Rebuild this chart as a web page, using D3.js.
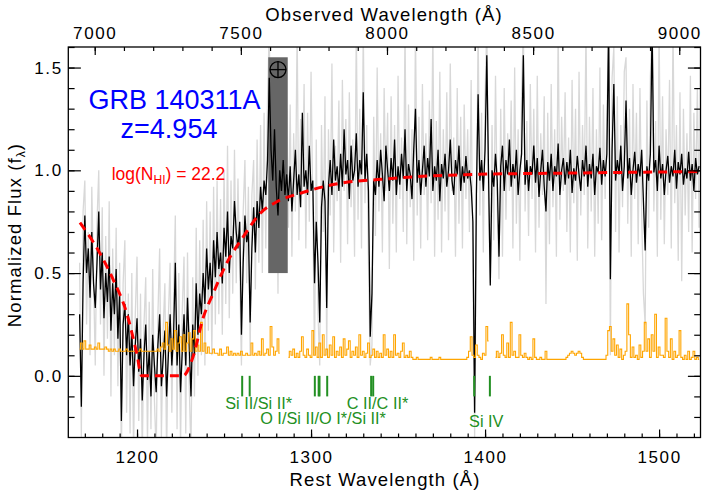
<!DOCTYPE html>
<html>
<head>
<meta charset="utf-8">
<script src="https://cdn.jsdelivr.net/npm/d3@7"></script>
<style>
body { margin: 0; background: #fff; }
svg { display: block; }
</style>
</head>
<body>
<div id="chart"></div>
<script>
// redshift of the burst
var z = 4.954;

// spectrum grid (rest frame, Angstrom): first pixel and step
var lamStart = 1167, lamStep = 1;

// binned spectrum (black)
var fluxBinned = [
  0.30, -0.15, 0.45, 0.78, 0.50, 0.62, 0.38, 0.70, 0.45, 0.33,
  0.55, 0.80, 0.42, 0.60, 0.28, 0.50, 0.36, 0.58, 0.22, 0.45,
  0.30, 0.52, 0.18, 0.40, -0.22, 0.25, 0.35, 0.10, 0.30, 0.05,
  0.22, -0.05, 0.15, 0.28, 0.02, 0.18, -0.12, 0.10, 0.25, -0.02,
  0.12, -0.10, 0.20, 0.05, -0.08, 0.15, 0.30, -0.05, 0.08, 0.22,
  -0.10, 0.10, 0.30, 0.05, 0.20, 0.55, 0.05, 0.25, -0.08, 0.12,
  0.30, 0.05, 0.38, 0.15, -0.10, 0.25, 0.10, 0.45, 0.20, 0.40,
  0.30, 0.50, 0.35, 0.62, 0.42, 0.55, 0.38, 0.66, 0.48, 0.70,
  0.52, 0.60, 0.45, 0.72, 0.58, 0.80, 0.50, 0.68, 0.62, 0.85,
  0.70, 0.62, 0.75, 0.20, 0.55, 0.78, 0.65, 0.70, 0.26, 0.62,
  0.82, 0.60, 0.85, 0.72, 0.92, 0.80, 0.95, 0.88, 1.05, 1.45,
  1.10, 0.95, 1.20, 0.92, 0.78, 1.00, 0.90, 1.05, 0.88, 0.98,
  0.85, 1.02, 0.80, 0.95, 1.10, 0.88, 0.98, 0.82, 1.28, 0.92,
  1.00, 0.88, 1.12, 0.90, 0.95, 0.45, 0.75, 0.55, 0.26, 0.82,
  0.95, 0.85, 0.33, 0.92, 1.05, 0.88, 1.15, 0.95, 1.02, 0.90,
  1.08, 0.92, 1.20, 0.98, 1.05, 0.86, 1.12, 0.95, 1.00, 1.18,
  0.92, 1.05, 0.98, 1.38, 0.95, 1.08, 0.90, 0.19, 0.40, 0.95,
  0.88, 1.05, 0.92, 1.10, 0.98, 0.85, 1.12, 1.00, 0.90, 1.06,
  0.95, 1.15, 0.88, 1.02, 0.93, 1.08, 0.96, 1.20, 0.90, 1.03,
  0.98, 0.86, 1.10, 1.30, 0.94, 1.05, 0.88, 1.00, 1.12, 0.92,
  1.06, 0.97, 1.25, 0.90, 1.02, 0.95, 1.10, 0.85, 1.03, 0.96,
  1.08, 0.92, 1.00, 1.15, 0.95, 0.88, 1.05, 0.98, 1.12, 0.90,
  1.02, 0.94, 1.07, 0.96, 1.00, 0.92, 0.75, -0.18, 0.88, 1.37,
  0.95, 1.05, 0.90, 1.10, 1.56, 0.98, 0.44, 1.00, 0.92, 1.08,
  0.95, 0.58, 1.02, 1.12, 0.90, 1.05, 0.98, 1.15, 0.92, 1.03,
  0.96, 1.10, 0.88, 1.00, 1.08, 1.56, 0.93, 1.05, 0.90, 1.02,
  0.98, 1.12, 0.94, 1.06, 0.87, 1.00, 1.10, 0.92, 0.80, 1.04,
  0.95, 1.08, 0.90, 1.02, 0.97, 1.13, 0.88, 1.00, 1.06, 0.93,
  1.04, 0.96, 1.10, 0.89, 1.01, 0.95, 1.07, 0.98, 0.90, 1.05,
  0.97, 1.12, 0.92, 1.03, 0.96, 1.08, 0.88, 1.02, 0.99, 1.11,
  0.93, 1.05, 0.97, 1.08, 1.70, 0.47, 1.10, 1.42, 0.95, 1.05,
  0.98, 1.12, 0.90, 1.02, 1.34, 0.96, 1.06, 0.88, 1.00, 1.09,
  0.94, 1.03, 0.97, 1.10, 0.85, 0.61, 1.02, 0.95, 1.08, 1.70,
  0.99, 1.05, 0.90, 1.12, 0.96, 1.03, 0.88, 1.00, 1.07, 0.94,
  1.02, 0.97, 1.10, 0.91, 1.04, 0.98, 1.08, 0.93, 1.01, 0.96,
  1.09, 0.95, 1.03, 0.90, 1.06, 0.98, 1.02
];

// unbinned spectrum (light grey)
var fluxRaw = [
  0.55, -0.30, 0.80, 0.95, 0.25, 0.70, 0.10, 0.92, 0.48, 0.05,
  0.75, 1.00, 0.25, 0.82, 0.00, 0.68, 0.18, 0.85, -0.10, 0.62,
  0.10, 0.72, -0.05, 0.55, -0.40, 0.45, 0.66, -0.18, 0.40, -0.28,
  0.50, -0.38, 0.30, 0.58, -0.22, 0.40, -0.40, 0.25, 0.48, -0.34,
  0.36, -0.26, 0.52, -0.12, -0.38, 0.30, 0.62, -0.30, 0.22, 0.45,
  -0.40, 0.28, 0.55, -0.18, 0.36, 0.78, -0.26, 0.50, -0.35, 0.32,
  0.58, -0.28, 0.60, -0.05, -0.38, 0.48, -0.10, 0.72, 0.00, 0.66,
  0.10, 0.76, 0.05, 0.85, 0.22, 0.80, 0.10, 0.92, 0.25, 0.95,
  0.30, 0.86, 0.20, 1.00, 0.35, 1.12, 0.28, 0.95, 0.40, 1.10,
  0.45, 0.96, 0.50, 0.05, 0.80, 1.05, 0.45, 0.92, 0.10, 0.88,
  1.05, 0.42, 1.15, 0.55, 1.22, 0.50, 1.28, 0.62, 1.35, 1.70,
  0.80, 1.30, 0.62, 1.26, 0.40, 1.40, 0.58, 1.24, 0.66, 1.30,
  0.72, 1.32, 0.58, 1.18, 0.80, 1.70, 0.66, 1.25, 0.88, 1.42,
  0.62, 1.28, 0.75, 1.48, 0.82, 0.10, 1.15, 0.30, 0.05, 1.22,
  0.70, 1.36, 0.10, 1.20, 0.78, 1.52, 0.60, 1.12, 0.85, 1.34,
  0.55, 1.44, 0.90, 1.25, 0.64, 1.38, 0.82, 1.15, 0.58, 1.70,
  0.76, 1.30, 0.62, 1.70, 0.84, 1.22, 0.55, 0.05, 0.15, 1.26,
  0.68, 1.50, 0.80, 1.18, 0.60, 1.40, 0.90, 1.28, 0.52, 1.36,
  0.74, 1.22, 0.60, 1.46, 0.86, 1.16, 0.70, 1.70, 0.64, 1.32,
  0.82, 1.20, 0.56, 1.70, 0.78, 1.26, 0.62, 1.42, 0.88, 1.18,
  0.66, 1.34, 0.84, 1.70, 0.58, 1.24, 0.76, 1.48, 0.60, 1.20,
  0.80, 1.38, 0.66, 1.52, 0.90, 1.16, 0.58, 1.40, 0.74, 1.26,
  0.62, 1.32, 0.86, 1.20, 0.70, 1.44, 0.50, -0.30, 0.72, 1.70,
  0.78, 1.28, 0.60, 1.36, 1.70, 0.84, 0.45, 1.22, 0.66, 1.46,
  0.82, 0.47, 1.30, 0.58, 1.40, 0.76, 1.18, 0.90, 1.34, 0.62,
  1.50, 0.74, 1.20, 0.56, 1.38, 1.70, 0.80, 1.24, 0.68, 1.42,
  0.86, 1.30, 0.60, 1.46, 0.72, 1.18, 0.88, 1.36, 0.35, 1.28,
  0.64, 1.42, 0.82, 1.20, 0.58, 1.70, 0.76, 1.26, 0.90, 1.38,
  0.70, 1.16, 0.60, 1.44, 0.84, 1.30, 0.56, 1.48, 0.78, 1.22,
  0.88, 1.70, 0.62, 1.26, 0.80, 1.40, 0.58, 1.20, 0.74, 1.50,
  0.66, 1.32, 0.86, 1.24, 1.70, 0.10, 1.45, 1.60, 0.70, 1.36,
  0.60, 1.22, 0.82, 1.48, 1.55, 0.74, 1.30, 0.58, 1.42, 0.86,
  1.28, 0.64, 1.40, 0.78, 0.40, 0.25, 1.34, 0.72, 1.46, 1.70,
  0.80, 1.24, 0.58, 1.70, 0.76, 1.36, 0.64, 1.20, 0.88, 1.44,
  0.62, 1.70, 0.84, 1.22, 0.56, 1.38, 0.46, 1.30, 0.78, 1.18,
  0.70, 1.46, 0.60, 1.28, 0.86, 1.40, 0.72
];

// error spectrum (orange), null where masked
var fluxError = [
  0.13, 0.16, 0.13, 0.17, 0.13, 0.13, 0.15, 0.13, 0.13, 0.14,
  0.13, 0.16, 0.13, 0.13, 0.13, 0.14, 0.13, 0.12, 0.13, 0.12,
  0.13, 0.12, 0.12, 0.13, 0.12, 0.12, 0.12, 0.13, 0.12, 0.12,
  0.12, 0.12, 0.12, 0.12, 0.12, 0.13, 0.12, 0.12, 0.12, 0.12,
  0.12, 0.12, 0.12, 0.12, 0.12, 0.13, 0.12, 0.14, 0.16, 0.13,
  0.26, 0.15, 0.12, 0.18, 0.13, 0.22, 0.12, 0.16, 0.19, 0.12,
  0.20, 0.12, 0.16, 0.21, 0.12, 0.18, 0.22, 0.12, 0.15, 0.12,
  0.26, 0.12, 0.16, 0.11, 0.14, 0.11, 0.11, 0.13, 0.11, 0.11,
  0.10, 0.13, 0.10, 0.11, 0.11, 0.14, 0.10, 0.12, 0.10, 0.11,
  0.10, 0.11, 0.10, 0.12, 0.10, 0.10, 0.11, 0.10, 0.10, 0.16,
  0.10, 0.11, 0.10, 0.12, 0.10, 0.18, 0.10, 0.11, 0.13, 0.10,
  0.24, 0.14, 0.10, 0.12, 0.18, 0.11, null, null, null, null,
  0.09, 0.12, 0.10, 0.13, 0.09, 0.11, 0.09, 0.12, 0.19, 0.10,
  0.09, 0.13, 0.10, 0.09, 0.22, 0.10, 0.14, 0.09, 0.16, 0.09,
  0.20, 0.10, 0.13, 0.09, 0.15, 0.10, 0.19, 0.09, 0.12, 0.10,
  0.14, 0.09, 0.18, 0.10, 0.13, 0.17, 0.09, 0.12, 0.10, 0.14,
  0.09, 0.20, 0.10, 0.12, 0.09, 0.11, 0.16, 0.09, 0.10, 0.13,
  0.09, 0.12, 0.09, 0.11, 0.09, 0.20, 0.10, 0.13, 0.09, 0.12,
  0.09, 0.20, 0.10, 0.11, 0.09, 0.12, 0.16, 0.09, 0.10, 0.09,
  0.12, 0.09, 0.08, 0.08, 0.09, 0.08, 0.08, 0.08, 0.08, 0.08,
  0.08, 0.08, 0.09, 0.08, 0.08, 0.08, 0.08, 0.09, 0.08, 0.08,
  0.08, 0.08, 0.08, 0.08, 0.08, 0.08, 0.08, 0.08, 0.08, 0.08,
  0.08, 0.08, 0.08, 0.09, 0.12, 0.19, 0.10, 0.09, 0.15, 0.10,
  0.09, 0.08, 0.11, 0.10, 0.24, 0.17, null, null, null, 0.09,
  0.12, 0.09, 0.11, 0.20, 0.10, 0.09, 0.16, 0.09, 0.26, 0.10,
  0.12, 0.09, 0.09, 0.20, 0.10, 0.09, 0.11, 0.09, 0.08, 0.09,
  0.08, 0.18, 0.09, 0.08, 0.08, 0.09, 0.08, 0.08, 0.12, 0.08,
  0.08, 0.08, 0.08, 0.08, 0.08, 0.08, 0.08, 0.08, 0.08, 0.08,
  0.09, 0.10, 0.11, 0.12, 0.11, 0.10, 0.11, 0.12, 0.11, 0.09,
  0.08, 0.08, 0.08, 0.08, 0.08, 0.08, 0.08, 0.08, 0.08, 0.08,
  0.08, 0.08, 0.08, 0.10, 0.22, 0.24, 0.12, 0.18, 0.10, 0.15,
  0.09, 0.13, 0.08, 0.10, 0.12, 0.35, 0.20, 0.09, 0.14, 0.09,
  0.10, 0.08, 0.15, 0.09, 0.12, 0.26, 0.12, 0.18, 0.09, 0.20,
  0.12, 0.30, 0.09, 0.14, 0.10, 0.10, 0.09, 0.28, 0.12, 0.09,
  0.18, 0.08, 0.12, 0.09, 0.10, 0.22, 0.09, 0.08, 0.10, 0.08,
  0.12, 0.08, 0.09, 0.12, 0.08, 0.09, 0.08
];

// DLA model (red dashed)
var modelLam  = [1167.2, 1178.4, 1186.4, 1194.1, 1199.8, 1202.7, 1226.4, 1232.2, 1237.9, 1243.7, 1251.5,
                 1261.1, 1270.7, 1280.3, 1293.7, 1316.7, 1339.7, 1366.6, 1393.0, 1443.0, 1523.5];
var modelFlux = [0.745, 0.60, 0.466, 0.304, 0.11, 0.0, 0.0, 0.093, 0.28, 0.40, 0.548,
                 0.677, 0.79, 0.847, 0.888, 0.937, 0.956, 0.972, 0.98, 0.986, 0.994];

// metal absorption lines (rest wavelengths)
var lineLam = [1260.42, 1264.74, 1302.17, 1304.37, 1304.86, 1309.28, 1334.53, 1335.71, 1393.76, 1402.77];
var lineLabels = ["Si II/Si II*", "O I/Si II/O I*/Si II*", "C II/C II*", "Si IV"];

// telluric A-band (rest wavelength range, flux range)
var tellLam = [1275.4, 1286.6];
var tellFlux = [0.5, 1.55];

// axis ticks
var restTicks = [1200, 1300, 1400, 1500];
var obsTicks = [7000, 7500, 8000, 8500, 9000];
var fluxTicks = [0.0, 0.5, 1.0, 1.5];

// ---- drawing ----
var font = "'Liberation Sans', Arial, Helvetica, sans-serif";
var margin = {top: 47, right: 1.5, bottom: 54.5, left: 68.3},
    width = 702 - margin.left - margin.right,
    height = 492 - margin.top - margin.bottom;

var svg = d3.select("#chart")
  .append("svg")
    .attr("width", 702)
    .attr("height", 492)
    .style("font-family", font);

var g = svg.append("g")
    .attr("transform", "translate(" + margin.left + "," + margin.top + ")");

var x = d3.scaleLinear().domain([1160.5, 1523.8]).range([0, width]);
var xObs = d3.scaleLinear().domain(x.domain().map(d => d * (1 + z))).range([0, width]);
var y = d3.scaleLinear().domain([-0.3, 1.6]).range([height, 0]);

g.append("clipPath").attr("id", "plotclip")
  .append("rect").attr("width", width).attr("height", height);

var plot = g.append("g").attr("clip-path", "url(#plotclip)");

function spec(arr) {
  return arr.map((f, i) => ({lam: lamStart + i * lamStep, f: f}));
}

var stepLine = d3.line()
    .defined(d => d.f !== null)
    .x(d => x(d.lam))
    .y(d => y(d.f))
    .curve(d3.curveStep);

var rawLine = d3.line()
    .x(d => x(d.lam))
    .y(d => y(d.f));

// grey unbinned spectrum
plot.append("path")
    .datum(spec(fluxRaw))
    .attr("fill", "none")
    .attr("stroke", "#d8d8d8")
    .attr("stroke-width", 1.3)
    .attr("d", rawLine);

// telluric band
plot.append("rect")
    .attr("x", x(tellLam[0]))
    .attr("width", x(tellLam[1]) - x(tellLam[0]))
    .attr("y", y(tellFlux[1]))
    .attr("height", y(tellFlux[0]) - y(tellFlux[1]))
    .attr("fill", "#666666");

// binned spectrum
plot.append("path")
    .datum(spec(fluxBinned))
    .attr("fill", "none")
    .attr("stroke", "#000")
    .attr("stroke-width", 1.3)
    .attr("d", rawLine);

// error spectrum
plot.append("path")
    .datum(spec(fluxError))
    .attr("fill", "none")
    .attr("stroke", "#ffa500")
    .attr("stroke-width", 1.1)
    .attr("d", stepLine);

// DLA model
plot.append("path")
    .datum(modelLam.map((l, i) => ({lam: l, f: modelFlux[i]})))
    .attr("fill", "none")
    .attr("stroke", "#ff0000")
    .attr("stroke-width", 3)
    .attr("stroke-dasharray", "9,6")
    .attr("d", d3.line().x(d => x(d.lam)).y(d => y(d.f)).curve(d3.curveMonotoneX));

// earth symbol on the telluric band
var ex = x((tellLam[0] + tellLam[1]) / 2), ey = y(1.49);
g.append("circle").attr("cx", ex).attr("cy", ey).attr("r", 8)
    .attr("fill", "none").attr("stroke", "#000").attr("stroke-width", 1.3);
g.append("line").attr("x1", ex - 8).attr("x2", ex + 8).attr("y1", ey).attr("y2", ey)
    .attr("stroke", "#000").attr("stroke-width", 1.3);
g.append("line").attr("x1", ex).attr("x2", ex).attr("y1", ey - 8).attr("y2", ey + 8)
    .attr("stroke", "#000").attr("stroke-width", 1.3);

// line markers
var green = "#239023";
g.selectAll(".marker")
  .data(lineLam)
  .enter().append("line")
    .attr("class", "marker")
    .attr("x1", d => x(d)).attr("x2", d => x(d))
    .attr("y1", y(0)).attr("y2", y(-0.1))
    .attr("stroke", green)
    .attr("stroke-width", 2);

var labelPos = [
  {lam: 1269.9, f: -0.16},
  {lam: 1306.9, f: -0.235},
  {lam: 1338.2, f: -0.16},
  {lam: 1400.7, f: -0.251}
];
g.selectAll(".linelabel")
  .data(lineLabels)
  .enter().append("text")
    .attr("class", "linelabel")
    .attr("x", (d, i) => x(labelPos[i].lam))
    .attr("y", (d, i) => y(labelPos[i].f))
    .attr("text-anchor", "middle")
    .attr("font-size", 16.3)
    .attr("fill", green)
    .text(d => d);

// axes
function styleAxis(sel) {
  sel.select(".domain").remove();
  sel.attr("font-family", font).attr("font-size", 17).attr("letter-spacing", 1.6);
  sel.selectAll("line").attr("stroke-width", 1.2);
}

g.append("g").attr("transform", "translate(0," + height + ")")
    .call(d3.axisBottom(x).tickValues(d3.range(1170, 1521, 10)).tickSize(-4).tickFormat(""))
    .call(styleAxis);
g.append("g").attr("transform", "translate(0," + height + ")")
    .call(d3.axisBottom(x).tickValues(restTicks).tickSize(-8).tickPadding(13.4).tickFormat(d3.format("d")))
    .call(styleAxis);

g.append("g")
    .call(d3.axisTop(xObs).tickValues(d3.range(7000, 9001, 100)).tickSize(-4).tickFormat(""))
    .call(styleAxis);
g.append("g")
    .call(d3.axisTop(xObs).tickValues(obsTicks).tickSize(-8).tickPadding(8).tickFormat(d3.format("d")))
    .call(styleAxis);

g.append("g")
    .call(d3.axisLeft(y).tickValues(d3.range(-0.2, 1.61, 0.1)).tickSize(-6.3).tickFormat(""))
    .call(styleAxis);
g.append("g")
    .call(d3.axisLeft(y).tickValues(fluxTicks).tickSize(-12.6).tickPadding(5.6).tickFormat(d3.format(".1f")))
    .call(styleAxis);

g.append("g").attr("transform", "translate(" + width + ",0)")
    .call(d3.axisRight(y).tickValues(d3.range(-0.2, 1.61, 0.1)).tickSize(-6.3).tickFormat(""))
    .call(styleAxis);
g.append("g").attr("transform", "translate(" + width + ",0)")
    .call(d3.axisRight(y).tickValues(fluxTicks).tickSize(-12.6).tickFormat(""))
    .call(styleAxis);

// frame
g.append("rect")
    .attr("width", width).attr("height", height)
    .attr("fill", "none").attr("stroke", "#000").attr("stroke-width", 1.3);

// axis titles
svg.append("text")
    .attr("x", 384).attr("y", 21)
    .attr("text-anchor", "middle")
    .attr("font-size", 18.5).attr("letter-spacing", 1.1)
    .text("Observed Wavelength (\u00c5)");

svg.append("text")
    .attr("x", 385).attr("y", 486)
    .attr("text-anchor", "middle")
    .attr("font-size", 18.5).attr("letter-spacing", 1.1)
    .text("Rest Wavelength (\u00c5)");

var ylab = svg.append("text")
    .attr("transform", "translate(21,235) rotate(-90)")
    .attr("text-anchor", "middle")
    .attr("font-size", 18.5).attr("letter-spacing", 1.1);
ylab.append("tspan").text("Normalized Flux (f");
ylab.append("tspan").attr("font-size", 12).attr("dy", 4).text("\u03bb");
ylab.append("tspan").attr("dy", -4).text(")");

// annotations
svg.append("text")
    .attr("x", 174.5).attr("y", 109.3)
    .attr("text-anchor", "middle")
    .attr("font-size", 27).attr("fill", "#0000ff")
    .text("GRB 140311A");
svg.append("text")
    .attr("x", 169).attr("y", 138.3)
    .attr("text-anchor", "middle")
    .attr("font-size", 27).attr("fill", "#0000ff")
    .text("z=4.954");

var nh = svg.append("text")
    .attr("x", 111.7).attr("y", 180)
    .attr("font-size", 17.5).attr("fill", "#ff0000");
nh.append("tspan").text("log(N");
nh.append("tspan").attr("font-size", 12).attr("dy", 4).text("HI");
nh.append("tspan").attr("dy", -4).text(") = 22.2");
</script>
</body>
</html>
